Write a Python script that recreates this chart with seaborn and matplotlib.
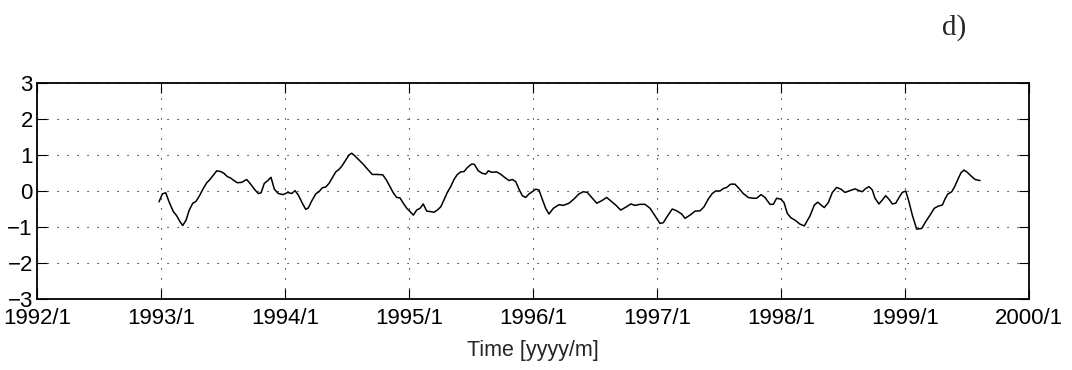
import matplotlib
matplotlib.use("Agg")
import matplotlib.pyplot as plt
import seaborn as sns
import pandas as pd

# decimal year of each sample
time_year = [
    1992.984, 1993.011, 1993.038, 1993.065, 1993.099, 1993.127, 1993.153, 1993.175, 1993.202, 1993.228,
    1993.256, 1993.282, 1993.309, 1993.341, 1993.369, 1993.395, 1993.422, 1993.449, 1993.482, 1993.508,
    1993.535, 1993.562, 1993.589, 1993.615, 1993.651, 1993.691, 1993.723, 1993.758, 1993.785, 1993.807,
    1993.833, 1993.861, 1993.887, 1993.914, 1993.946, 1993.986, 1994.022, 1994.054, 1994.081, 1994.107,
    1994.140, 1994.167, 1994.188, 1994.215, 1994.248, 1994.274, 1994.301, 1994.328, 1994.355, 1994.382,
    1994.409, 1994.436, 1994.462, 1994.490, 1994.516, 1994.538, 1994.565, 1994.597, 1994.632, 1994.667,
    1994.704, 1994.740, 1994.788, 1994.815, 1994.847, 1994.873, 1994.901, 1994.927, 1994.954, 1994.982,
    1995.008, 1995.035, 1995.062, 1995.089, 1995.115, 1995.143, 1995.169, 1995.202, 1995.228, 1995.256,
    1995.282, 1995.309, 1995.336, 1995.363, 1995.390, 1995.417, 1995.444, 1995.470, 1995.506, 1995.527,
    1995.559, 1995.591, 1995.619, 1995.640, 1995.667, 1995.707, 1995.742, 1995.774, 1995.807, 1995.833,
    1995.861, 1995.887, 1995.914, 1995.941, 1995.968, 1995.994, 1996.022, 1996.048, 1996.075, 1996.102,
    1996.129, 1996.164, 1996.210, 1996.244, 1996.290, 1996.331, 1996.371, 1996.406, 1996.438, 1996.473,
    1996.514, 1996.554, 1996.594, 1996.635, 1996.667, 1996.707, 1996.748, 1996.790, 1996.823, 1996.863,
    1996.903, 1996.944, 1996.984, 1997.024, 1997.051, 1997.078, 1997.123, 1997.159, 1997.199, 1997.226,
    1997.266, 1997.307, 1997.347, 1997.379, 1997.414, 1997.446, 1997.473, 1997.508, 1997.535, 1997.562,
    1997.594, 1997.629, 1997.661, 1997.696, 1997.736, 1997.769, 1997.804, 1997.839, 1997.871, 1997.911,
    1997.938, 1997.965, 1998.000, 1998.024, 1998.051, 1998.078, 1998.113, 1998.153, 1998.188, 1998.234,
    1998.269, 1998.296, 1998.323, 1998.349, 1998.382, 1998.414, 1998.449, 1998.484, 1998.516, 1998.557,
    1998.597, 1998.629, 1998.656, 1998.683, 1998.710, 1998.736, 1998.758, 1998.790, 1998.817, 1998.844,
    1998.871, 1998.898, 1998.925, 1998.952, 1998.978, 1999.006, 1999.032, 1999.059, 1999.094, 1999.135,
    1999.167, 1999.202, 1999.236, 1999.269, 1999.301, 1999.323, 1999.344, 1999.377, 1999.403, 1999.430,
    1999.452, 1999.476, 1999.502, 1999.532, 1999.565, 1999.605,
]

# anomaly value of each sample
anomaly = [
    -0.30, -0.08, -0.05, -0.30, -0.57, -0.69, -0.85, -0.96, -0.81, -0.53,
    -0.34, -0.29, -0.14, 0.07, 0.23, 0.32, 0.44, 0.56, 0.54, 0.49,
    0.40, 0.36, 0.29, 0.23, 0.24, 0.32, 0.19, 0.03, -0.07, -0.05,
    0.21, 0.29, 0.38, 0.05, -0.07, -0.10, -0.04, -0.07, 0.01, -0.11,
    -0.34, -0.51, -0.47, -0.28, -0.08, -0.02, 0.09, 0.11, 0.21, 0.37,
    0.53, 0.60, 0.71, 0.86, 1.00, 1.05, 0.97, 0.86, 0.74, 0.60,
    0.46, 0.46, 0.45, 0.32, 0.12, -0.05, -0.18, -0.19, -0.34, -0.48,
    -0.57, -0.67, -0.53, -0.48, -0.36, -0.56, -0.57, -0.59, -0.53, -0.44,
    -0.25, -0.04, 0.12, 0.32, 0.46, 0.53, 0.54, 0.65, 0.75, 0.74,
    0.56, 0.49, 0.47, 0.56, 0.52, 0.53, 0.46, 0.37, 0.29, 0.32,
    0.26, 0.05, -0.13, -0.18, -0.08, -0.02, 0.05, 0.03, -0.23, -0.48,
    -0.64, -0.48, -0.38, -0.40, -0.34, -0.22, -0.08, -0.02, -0.04, -0.18,
    -0.34, -0.27, -0.18, -0.30, -0.39, -0.53, -0.45, -0.36, -0.40, -0.37,
    -0.37, -0.48, -0.69, -0.90, -0.88, -0.73, -0.50, -0.55, -0.64, -0.76,
    -0.67, -0.56, -0.55, -0.44, -0.22, -0.07, 0.00, 0.00, 0.07, 0.10,
    0.19, 0.19, 0.07, -0.07, -0.18, -0.20, -0.20, -0.10, -0.18, -0.37,
    -0.37, -0.20, -0.23, -0.32, -0.62, -0.74, -0.81, -0.92, -0.97, -0.69,
    -0.39, -0.31, -0.39, -0.46, -0.32, -0.04, 0.10, 0.05, -0.04, 0.01,
    0.06, 0.01, -0.02, 0.07, 0.12, 0.03, -0.20, -0.36, -0.25, -0.13,
    -0.23, -0.36, -0.34, -0.18, -0.04, 0.00, -0.30, -0.67, -1.06, -1.04,
    -0.85, -0.67, -0.48, -0.42, -0.39, -0.22, -0.09, -0.02, 0.14, 0.35,
    0.51, 0.58, 0.52, 0.42, 0.32, 0.29,
]

x_ticks = [1992, 1993, 1994, 1995, 1996, 1997, 1998, 1999, 2000]
x_tick_labels = ["1992/1", "1993/1", "1994/1", "1995/1", "1996/1",
                 "1997/1", "1998/1", "1999/1", "2000/1"]
y_ticks = [-3, -2, -1, 0, 1, 2, 3]
y_tick_labels = ["\u22123", "\u22122", "\u22121", "0", "1", "2", "3"]
x_label = "Time [yyyy/m]"
panel_label = "d)"

sns.set_theme(style="white")
plt.rcParams["font.family"] = ["Liberation Sans", "DejaVu Sans"]

df = pd.DataFrame({"time": time_year, "value": anomaly})

fig = plt.figure(figsize=(10.72, 3.70), dpi=100)
ax = fig.add_axes([37 / 1072, 1 - 299 / 370, (1029 - 37) / 1072, (299 - 83) / 370])

sns.lineplot(data=df, x="time", y="value", ax=ax, color="black", linewidth=1.1,
             estimator=None, sort=False)

ax.set_xlim(1992, 2000)
ax.set_ylim(-3, 3)
ax.set_xticks(x_ticks)
ax.set_xticklabels(x_tick_labels, fontsize=16)
ax.set_yticks(y_ticks)
ax.set_yticklabels(y_tick_labels, fontsize=16)
ax.set_xlabel(x_label, fontsize=15.5, labelpad=8)
ax.set_ylabel("")

ax.grid(True, color="black", linestyle=(0, (1, 8)), linewidth=0.8)
ax.tick_params(axis="both", direction="in", length=7, width=0.8, colors="black",
               top=True, right=True, bottom=True, left=True,
               labelcolor="black")
ax.tick_params(axis="x", pad=6.5)
ax.tick_params(axis="y", pad=3)
for s in ax.spines.values():
    s.set_color("black")
    s.set_linewidth(1.3)
    s.set_visible(True)

fig.text(954 / 1072, 1 - 28 / 370, panel_label, ha="center", va="center",
         fontsize=21, family="Liberation Serif")

fig.savefig("out.png", dpi=100, facecolor="white")
